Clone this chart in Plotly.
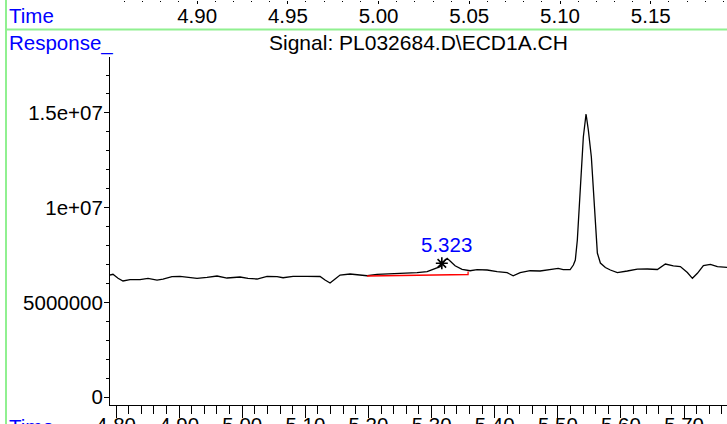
import plotly.graph_objects as go

# ---- data ----
time_min = [4.7905, 4.7952, 4.8032, 4.8111, 4.8222, 4.8380, 4.8507, 4.8650, 4.8745, 4.8887,
            4.9014, 4.9125, 4.9284, 4.9442, 4.9601, 4.9759, 4.9965, 5.0092, 5.0235, 5.0393,
            5.0552, 5.0647, 5.0805, 5.1027, 5.1233, 5.1312, 5.1391, 5.1471, 5.1550, 5.1708,
            5.1819, 5.1978, 5.2136, 5.2295, 5.2453, 5.2612, 5.2770, 5.2929, 5.3024, 5.3135,
            5.3182, 5.3246, 5.3293, 5.3372, 5.3483, 5.3610, 5.3721, 5.3880, 5.4038, 5.4197,
            5.4292, 5.4403, 5.4561, 5.4719, 5.4925, 5.5005, 5.5084, 5.5195, 5.5246, 5.5277,
            5.5309, 5.5357, 5.5404, 5.5447, 5.5483, 5.5531, 5.5563, 5.5594, 5.5626, 5.5674,
            5.5753, 5.5832, 5.5943, 5.6101, 5.6260, 5.6418, 5.6577, 5.6704, 5.6830, 5.6941,
            5.7052, 5.7132, 5.7211, 5.7306, 5.7417, 5.7528, 5.7686]
response = [6441000, 6478000, 6267000, 6125000, 6193000, 6193000, 6267000, 6177000, 6230000, 6352000,
            6373000, 6320000, 6267000, 6320000, 6389000, 6283000, 6336000, 6267000, 6230000, 6373000,
            6352000, 6299000, 6373000, 6373000, 6362000, 6177000, 6019000, 6230000, 6441000, 6494000,
            6441000, 6404000, 6478000, 6494000, 6510000, 6531000, 6563000, 6616000, 6742000, 6880000,
            7112000, 7323000, 7181000, 6932000, 6742000, 6668000, 6721000, 6705000, 6616000, 6563000,
            6404000, 6563000, 6668000, 6653000, 6758000, 6795000, 6721000, 6732000, 6969000, 7233000,
            8289000, 11299000, 13727000, 14942000, 14097000, 12672000, 10929000, 8817000, 7603000, 7075000,
            6837000, 6705000, 6573000, 6653000, 6748000, 6758000, 6732000, 7022000, 6927000, 6890000,
            6573000, 6267000, 6531000, 6943000, 7006000, 6880000, 6848000]

# integration baseline of the labelled peak
baseline_time = [5.1978, 5.3578, 5.3578]
baseline_resp = [6389000, 6468000, 6626000]

# labelled peak
peak_rt = [5.323]
peak_mark_time = [5.3162]
peak_mark_resp = [7059000]

# axis ticks
y_tickvals = [0, 5000000, 10000000, 15000000]
y_ticktext = ["0", "5000000", "1e+07", "1.5e+07"]

title_text = "Signal: PL032684.D\\ECD1A.CH"

W, H = 727, 424
FONT = "Liberation Sans, Arial, sans-serif"
FS = 20.5
GREEN = "#90f090"
BLUE = "#0000ff"

fig = go.Figure()

fig.add_trace(go.Scatter(x=time_min, y=response, mode="lines",
                         line=dict(color="black", width=1.3),
                         hoverinfo="skip", showlegend=False))
fig.add_trace(go.Scatter(x=baseline_time, y=baseline_resp, mode="lines",
                         line=dict(color="#ff0000", width=1.3),
                         hoverinfo="skip", showlegend=False))
fig.add_trace(go.Scatter(x=peak_mark_time, y=peak_mark_resp, mode="markers",
                         marker=dict(symbol="asterisk-open", size=10, color="black",
                                     line=dict(color="black", width=1.6)),
                         hoverinfo="skip", showlegend=False))
# trace carrying the top (previous panel) time axis
fig.add_trace(go.Scatter(x=[], y=[], xaxis="x2", yaxis="y",
                         hoverinfo="skip", showlegend=False))

x_dom = [110 / W, 1]
y_dom = [(H - 405) / H, (H - 57) / H]

fig.update_layout(
    width=W, height=H,
    margin=dict(l=0, r=0, t=0, b=0),
    paper_bgcolor="white", plot_bgcolor="white",
    font=dict(family=FONT, size=FS, color="black"),
    xaxis=dict(domain=x_dom, range=[4.7905, 5.768], showgrid=False, zeroline=False,
               showline=True, linecolor="black", linewidth=1,
               ticks="outside", ticklen=12, tickwidth=1, tickcolor="black",
               tick0=4.8, dtick=0.1, tickformat=".2f",
               tickfont=dict(size=FS, color="black"), ticklabelstandoff=-11,
               minor=dict(ticks="outside", ticklen=8, tickcolor="black", dtick=0.02, tick0=4.8,
                          showgrid=False),
               anchor="y", automargin=False),
    xaxis2=dict(overlaying="x", anchor="free", position=1, side="bottom",
                range=[4.852, 5.192], showgrid=False, zeroline=False, showline=False,
                ticks="outside", ticklen=3, tickwidth=1, tickcolor="black",
                tick0=4.9, dtick=0.05, tickformat=".2f",
                tickfont=dict(size=FS, color="black"), ticklabelstandoff=-6,
                minor=dict(ticks="outside", ticklen=1, tickcolor="black", dtick=0.01, tick0=4.9,
                           showgrid=False),
                automargin=False),
    yaxis=dict(domain=y_dom, range=[-420000, 17950000], showgrid=False, zeroline=False,
               showline=True, linecolor="black", linewidth=1,
               ticks="outside", ticklen=5, tickwidth=1, tickcolor="black",
               tickmode="array", tickvals=y_tickvals, ticktext=y_ticktext,
               tickfont=dict(size=FS, color="black"), ticklabelstandoff=-3,
               minor=dict(ticks="outside", ticklen=3, tickcolor="black",
                          tickmode="linear", tick0=0, dtick=1000000, showgrid=False),
               anchor="x", automargin=False),
)

# green frame lines
fig.add_shape(type="line", xref="paper", yref="paper",
              x0=6 / W, x1=1, y0=(H - 29.5) / H, y1=(H - 29.5) / H,
              line=dict(color=GREEN, width=2))
fig.add_shape(type="line", xref="paper", yref="paper",
              x0=6 / W, x1=6 / W, y0=0, y1=1,
              line=dict(color=GREEN, width=2))

# text labels
fig.add_annotation(text="Time", xref="paper", yref="paper", x=7 / W, y=(H - 16) / H,
                   xanchor="left", yanchor="middle", showarrow=False,
                   font=dict(size=FS, color=BLUE, family=FONT))
fig.add_annotation(text="Response_", xref="paper", yref="paper", x=7 / W, y=(H - 43) / H,
                   xanchor="left", yanchor="middle", showarrow=False,
                   font=dict(size=FS, color=BLUE, family=FONT))
fig.add_annotation(text="Time", xref="paper", yref="paper", x=7 / W, y=(H - 413) / H,
                   xanchor="left", yanchor="top", showarrow=False,
                   font=dict(size=FS, color=BLUE, family=FONT))
fig.add_annotation(text=title_text, xref="paper", yref="paper",
                   x=(x_dom[0] + x_dom[1]) / 2, y=(H - 43) / H,
                   xanchor="center", yanchor="middle", showarrow=False,
                   font=dict(size=21, color="black", family=FONT))
fig.add_annotation(text=f"{peak_rt[0]:.3f}", xref="x", yref="y",
                   x=peak_rt[0], y=peak_mark_resp[0],
                   xanchor="center", yanchor="bottom", yshift=5, showarrow=False,
                   font=dict(size=FS, color=BLUE, family=FONT))

fig.write_html("out.html", config={"displayModeBar": False},
               post_script="document.body.style.margin='0';")
